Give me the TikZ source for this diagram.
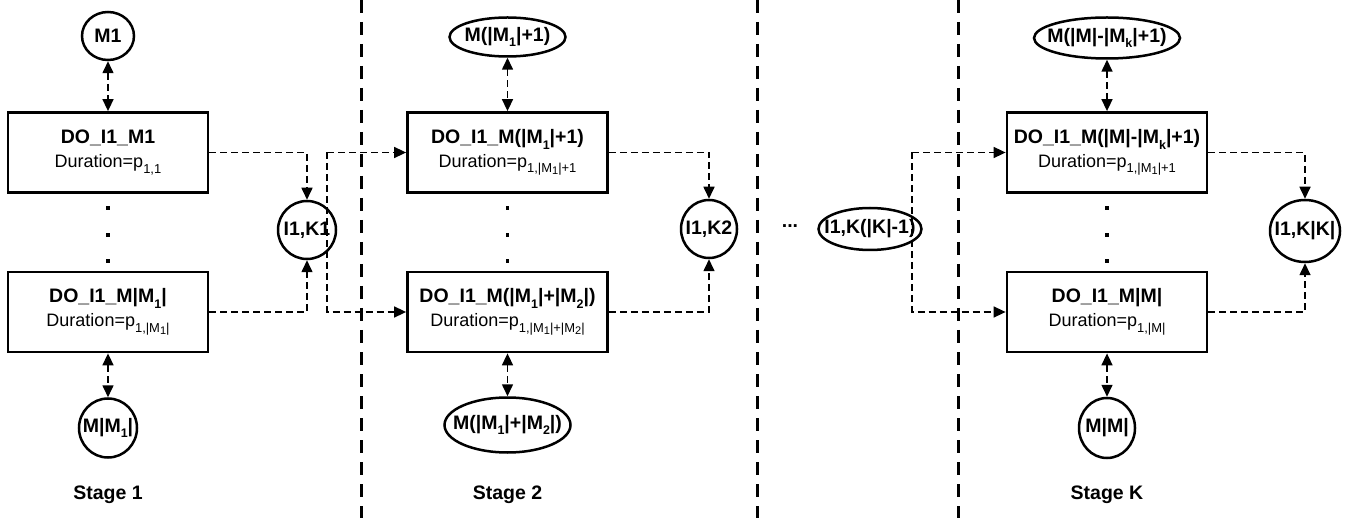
\documentclass[tikz,border=0pt]{standalone}
\usepackage{fontspec}
\setmainfont{Liberation Sans}
\usetikzlibrary{arrows.meta,shapes.geometric}
\newcommand\lowx[2][0.64]{\raisebox{-0.3em}{\scalebox{#1}{#2}}}
\newcommand\inx[1]{\raisebox{-0.15em}{\scalebox{0.85}{#1}}}
\begin{document}
\begin{tikzpicture}[x=1pt,y=-1pt,
  box/.style={draw,line width=2.8pt,minimum width=200pt,minimum height=80pt,inner sep=0pt,align=center,font=\fontsize{18}{24}\selectfont},
  res/.style={draw,ellipse,line width=2.5pt,inner sep=0pt},
  lbl/.style={font=\fontsize{19.5}{19.5}\selectfont\bfseries,inner sep=0pt},
  conn/.style={line width=1.6pt,dash pattern=on 7pt off 4pt},
  tip/.style={-{Triangle[length=12pt,width=11pt]}},
  both/.style={{Triangle[length=12pt,width=11pt]}-{Triangle[length=12pt,width=11pt]}},
  sep/.style={line width=3pt,dash pattern=on 13pt off 9pt},
  stage/.style={font=\fontsize{19.5}{19.5}\selectfont\bfseries},
  dot/.style={fill,inner sep=0pt,minimum size=3.2pt}
]
\useasboundingbox (0,0) rectangle (1351,518);

% separators
\draw[sep] (361,0) -- (361,518);
\draw[sep] (757,0) -- (757,518);
\draw[sep] (958,0) -- (958,518);

% Stage 1
\node[box] (b11) at (108,152.5) {{\bfseries\fontsize{19.5}{24}\selectfont DO\_I1\_M1}\\Duration=p\lowx[0.72]{1,1}};
\node[box] (b12) at (108,312) {{\bfseries\fontsize{19.5}{24}\selectfont DO\_I1\_M|M\lowx{1}|}\\Duration=p\lowx[0.72]{1,|M\inx{1}|}};
\node[res,minimum width=52pt,minimum height=48pt,label={[lbl]center:M1}] (m1) at (108,36) {};
\node[res,minimum width=58pt,minimum height=59pt,label={[lbl]center:M|M\lowx{1}|}] (m2) at (108,428) {};
\node[dot] (d11) at (108,208) {};
\node[dot] (d12) at (108,235) {};
\node[dot] (d13) at (108,261) {};
\node[stage] (s1) at (108,495) {Stage 1};

% Stage 2
\node[box] (b21) at (507.5,152.5) {{\bfseries\fontsize{19.5}{24}\selectfont DO\_I1\_M(|M\lowx{1}|+1)}\\Duration=p\lowx[0.72]{1,|M\inx{1}|+1}};
\node[box] (b22) at (507.5,312) {{\bfseries\fontsize{19.5}{24}\selectfont DO\_I1\_M(|M\lowx{1}|+|M\lowx{2}|)}\\Duration=p\lowx[0.72]{1,|M\inx{1}|+|M\inx{2}|}};
\node[res,minimum width=116pt,minimum height=39pt,label={[lbl]center:M(|M\lowx{1}|+1)}] (m3) at (507.5,37) {};
\node[res,minimum width=126pt,minimum height=55pt,label={[lbl]center:M(|M\lowx{1}|+|M\lowx{2}|)}] (m4) at (507.5,425) {};
\node[dot] (d21) at (507.5,208) {};
\node[dot] (d22) at (507.5,235) {};
\node[dot] (d23) at (507.5,261) {};
\node[stage] (s2) at (507.5,495) {Stage 2};

% Stage K
\node[box] (bK1) at (1107,152.5) {{\bfseries\fontsize{19.5}{24}\selectfont DO\_I1\_M(|M|-|M\lowx{k}|+1)}\\Duration=p\lowx[0.72]{1,|M\inx{1}|+1}};
\node[box] (bK2) at (1107,312) {{\bfseries\fontsize{19.5}{24}\selectfont DO\_I1\_M|M|}\\Duration=p\lowx[0.72]{1,|M|}};
\node[res,minimum width=146pt,minimum height=41pt,label={[lbl]center:M(|M|-|M\lowx{k}|+1)}] (m5) at (1107,38) {};
\node[res,minimum width=56pt,minimum height=60pt,label={[lbl]center:M|M|}] (m6) at (1107,428) {};
\node[dot] (dK1) at (1107,208) {};
\node[dot] (dK2) at (1107,235) {};
\node[dot] (dK3) at (1107,261) {};
\node[stage] (sK) at (1107,495) {Stage K};

% intermediate nodes
\node[res,minimum width=58pt,minimum height=58pt,label={[lbl]center:I1,K1}] (k1) at (307,230) {};
\node[res,minimum width=56pt,minimum height=58pt,label={[lbl]center:I1,K2}] (k2) at (709,229) {};
\node[res,minimum width=103pt,minimum height=42pt,label={[lbl]center:I1,K(|K|-1)}] (kd) at (870,229) {};
\node[res,minimum width=70pt,minimum height=62pt,label={[lbl]center:I1,K|K|}] (kK) at (1305,231) {};
\node[lbl] (ell) at (790,226) {...};

% connectors stage 1
\draw[conn,both] (m1) -- (b11);
\draw[conn,both] (b12) -- (m2);
\draw[conn,tip] (b11.east) -| (k1.north);
\draw[conn,tip] (b12.east) -| (k1.south);
\coordinate (j1) at (327,152.5);
\draw[conn,tip] (j1) -- (b21.west);
\draw[conn,tip] (j1) |- (b22.west);

% connectors stage 2
\draw[conn,both] (m3) -- (b21);
\draw[conn,both] (b22) -- (m4);
\draw[conn,tip] (b21.east) -| (k2.north);
\draw[conn,tip] (b22.east) -| (k2.south);

% connectors stage K
\coordinate (j3) at (912,152.5);
\draw[conn,tip] (j3) -- (bK1.west);
\draw[conn,tip] (j3) |- (bK2.west);
\draw[conn,both] (m5) -- (bK1);
\draw[conn,both] (bK2) -- (m6);
\draw[conn,tip] (bK1.east) -| (kK.north);
\draw[conn,tip] (bK2.east) -| (kK.south);
\end{tikzpicture}
\end{document}
